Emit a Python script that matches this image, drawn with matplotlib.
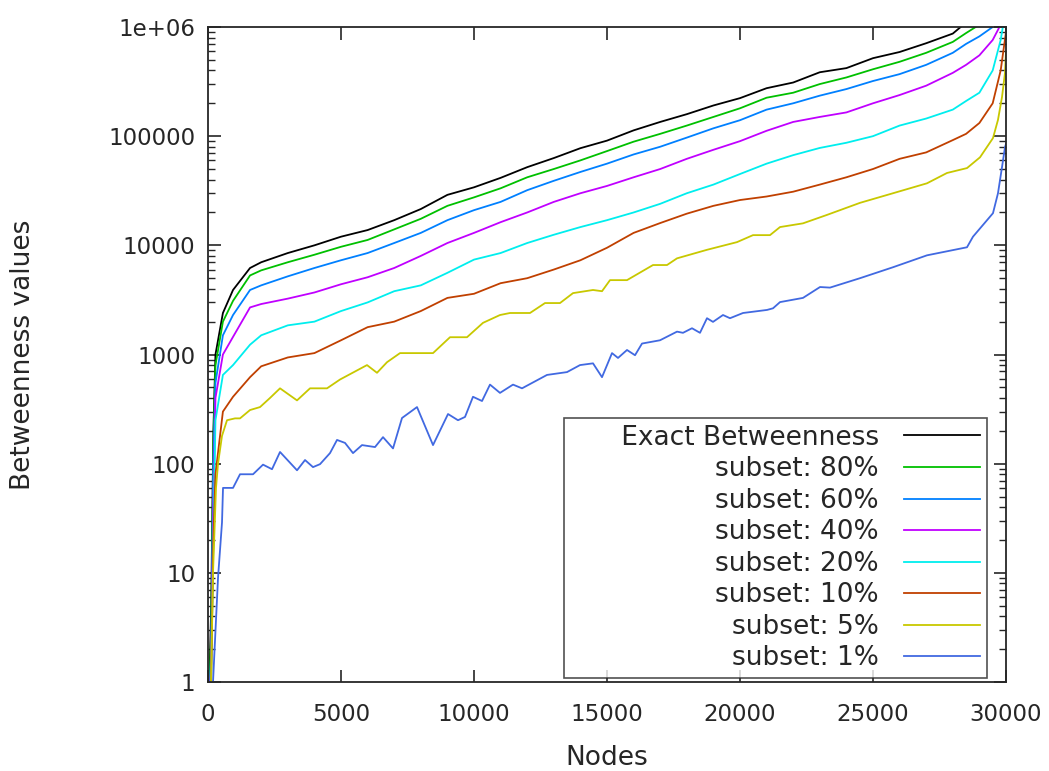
import matplotlib
matplotlib.use("Agg")
import matplotlib.pyplot as plt
from matplotlib.ticker import FixedLocator, FixedFormatter, LogLocator, NullFormatter

# common node grid for the smooth upper curves
nodes = [0, 120, 200, 280, 560, 940, 1580, 2000, 3000, 4000, 5000, 6000, 7000, 8000,
         9000, 10000, 11000, 12000, 13000, 14000, 15000, 16000, 17000, 18000, 19000,
         20000, 21000, 22000, 23000, 24000, 25000, 26000, 27000, 28000, 28500, 29000,
         29500, 29800, 30000]

exact = [0.3, 5, 190, 1000, 2400, 3900, 6200, 7000, 8500, 10000, 12000, 13800, 17000, 21500,
         29000, 34000, 41500, 52000, 63000, 77600, 91000, 113000, 135000, 159000, 191000,
         223000, 275000, 310000, 385000, 420000, 518000, 590000, 710000, 870000, 1.1e6, 1.5e6,
         2.5e6, 4e6, 5e6]
sub80 = [0.3, 3, 150, 800, 2000, 3100, 5300, 5900, 7000, 8200, 9700, 11200, 14000, 17500,
         23000, 27500, 33300, 42000, 50000, 60000, 73000, 89000, 105000, 125000, 150000,
         180000, 225000, 250000, 300000, 345000, 410000, 480000, 580000, 730000, 880000, 1.05e6,
         1.6e6, 3e6, 4e6]
sub60 = [0.3, 2, 100, 550, 1500, 2300, 3900, 4300, 5200, 6200, 7300, 8500, 10500, 13000,
         17000, 21000, 25000, 32000, 39000, 47000, 56000, 68000, 80000, 97000, 118000,
         140000, 175000, 200000, 235000, 270000, 320000, 370000, 450000, 580000, 700000, 820000,
         1.0e6, 1.5e6, 3e6]
sub40 = [0.3, 1.5, 40, 400, 1000, 1450, 2700, 2900, 3250, 3700, 4400, 5100, 6200, 8000,
         10500, 13000, 16300, 20000, 25000, 30000, 35000, 42000, 50000, 62000, 75000,
         90000, 112000, 135000, 150000, 165000, 200000, 238000, 290000, 380000, 450000, 550000,
         760000, 1.05e6, 2e6]
sub20 = [0.3, 1.2, 20, 250, 650, 800, 1230, 1500, 1850, 2000, 2500, 3000, 3800, 4300,
         5600, 7400, 8500, 10500, 12500, 14700, 17000, 20000, 24000, 30000, 36000,
         45000, 56000, 67000, 78000, 87000, 100000, 125000, 145000, 175000, 210000, 250000,
         400000, 760000, 1.5e6]
sub10 = [0.3, 1.1, 20, 80, 300, 410, 620, 780, 940, 1030, 1350, 1780, 2000, 2500,
         3300, 3600, 4500, 5000, 6000, 7300, 9500, 13000, 16000, 19500, 23000,
         26000, 28000, 31000, 36000, 42000, 50000, 62000, 71000, 92000, 105000, 132000,
         200000, 400000, 900000]

# jagged low subsets
x5 = [0, 113, 188, 300, 376, 526, 714, 1015, 1203, 1579, 1955, 2331, 2707, 3346, 3835, 4474,
      4962, 5977, 6353, 6729, 7218, 8459, 9098, 9737, 10338, 10977, 11353, 12105, 12669,
      13233, 13722, 14474, 14812, 15113, 15752, 16729, 17256, 17632, 18759, 19887, 20489,
      21128, 21504, 22368, 23271, 24511, 25752, 27030, 27782, 28534, 29023, 29511, 29699,
      29850, 29962, 30000]
sub5 = [0.3, 1, 10, 60, 100, 180, 250, 260, 260, 310, 330, 400, 490, 380, 490, 490,
        590, 800, 680, 850, 1030, 1030, 1440, 1440, 1950, 2300, 2400, 2400, 2960,
        2960, 3650, 3900, 3800, 4800, 4800, 6600, 6600, 7600, 9100, 10700, 12400,
        12400, 14700, 15900, 19000, 24500, 30000, 37000, 46000, 51000, 64000, 96000, 141000,
        228000, 380000, 600000]

x1 = [0, 150, 188, 376, 526, 564, 940, 1203, 1692, 2068, 2406, 2707, 3346, 3647, 3947, 4211,
      4586, 4850, 5150, 5451, 5789, 6278, 6579, 6955, 7293, 7857, 8459, 9023, 9398, 9662,
      9962, 10301, 10601, 10977, 11466, 11805, 12744, 13496, 13985, 14474, 14812, 15188,
      15414, 15752, 16053, 16316, 16992, 17632, 17857, 18195, 18496, 18759, 18985, 19361,
      19624, 20113, 21015, 21241, 21504, 22368, 23008, 23383, 24511, 25752, 27030, 28534,
      28759, 29511, 29699, 29850, 29962, 30000]
sub1 = [0.3, 0.5, 1, 9, 29, 60, 60, 80, 80, 98, 89, 128, 87, 108, 93, 99,
        125, 165, 155, 125, 148, 142, 175, 138, 262, 330, 148, 285, 250, 268,
        410, 375, 530, 445, 530, 490, 650, 690, 800, 830, 620, 1030,
        930, 1100, 985, 1260, 1350, 1620, 1580, 1740, 1580, 2150, 1990, 2300,
        2150, 2400, 2560, 2650, 3020, 3300, 4150, 4100, 5000, 6300, 8100, 9600,
        12000, 19700, 30000, 52000, 79000, 85000]

labels = ["Exact Betweenness", "subset: 80%", "subset: 60%", "subset: 40%",
          "subset: 20%", "subset: 10%", "subset: 5%", "subset: 1%"]
colors = ["#000000", "#00c000", "#0080ff", "#c000ff", "#00eeee", "#c04000", "#c8c800", "#4169e1"]

plt.rcParams['font.family'] = ['DejaVu Sans']
txt = '#262626'

fig = plt.figure(figsize=(10.49, 7.71), dpi=100)
ax = fig.add_axes([0.1983, 0.1154, 0.7607, 0.8496])

series = [(nodes, exact), (nodes, sub80), (nodes, sub60), (nodes, sub40),
          (nodes, sub20), (nodes, sub10), (x5, sub5), (x1, sub1)]
lines = []
for (xs, ys), col in zip(series, colors):
    ln, = ax.plot(xs, ys, color=col, lw=1.3)
    lines.append(ln)

ax.set_yscale('log')
ax.set_xlim(0, 30000)
ax.set_ylim(1, 1e6)

yt = [1, 10, 100, 1000, 10000, 100000, 1e6]
ax.yaxis.set_major_locator(FixedLocator(yt))
ax.yaxis.set_major_formatter(FixedFormatter(["1", "10", "100", "1000", "10000", "100000", "1e+06"]))
ax.yaxis.set_minor_locator(LogLocator(base=10, subs=[2, 3, 4, 5, 6, 7, 8, 9]))
ax.yaxis.set_minor_formatter(NullFormatter())
ax.set_xticks([0, 5000, 10000, 15000, 20000, 25000, 30000])

ax.tick_params(which='both', direction='in', top=True, right=True, labelsize=16.5, colors=txt)
ax.tick_params(which='major', length=9, width=1.2)
ax.tick_params(which='minor', length=5, width=1.0)
ax.tick_params(axis='y', pad=9)
ax.tick_params(axis='x', pad=15)
for sp in ax.spines.values():
    sp.set_linewidth(1.3)
    sp.set_color(txt)

ax.set_xlabel("Nodes", fontsize=19, color=txt, labelpad=14)
ax.set_ylabel("Betweenness values", fontsize=19, color=txt, labelpad=52)

# gnuplot-style key: right-justified labels, sample line on the right, wide box
leg_labels = ["      " + labels[0]] + labels[1:]
leg = ax.legend(lines, leg_labels, loc='lower right', bbox_to_anchor=(0.976, 0.006),
                markerfirst=False, fontsize=19, frameon=True, fancybox=False,
                handlelength=2.9, labelspacing=0.21, borderpad=0.25,
                handletextpad=0.95, borderaxespad=0.0)
leg.get_frame().set_edgecolor(txt)
leg.get_frame().set_linewidth(1.2)
for t in leg.get_texts():
    t.set_color(txt)

fig.savefig("out.png", dpi=100)
